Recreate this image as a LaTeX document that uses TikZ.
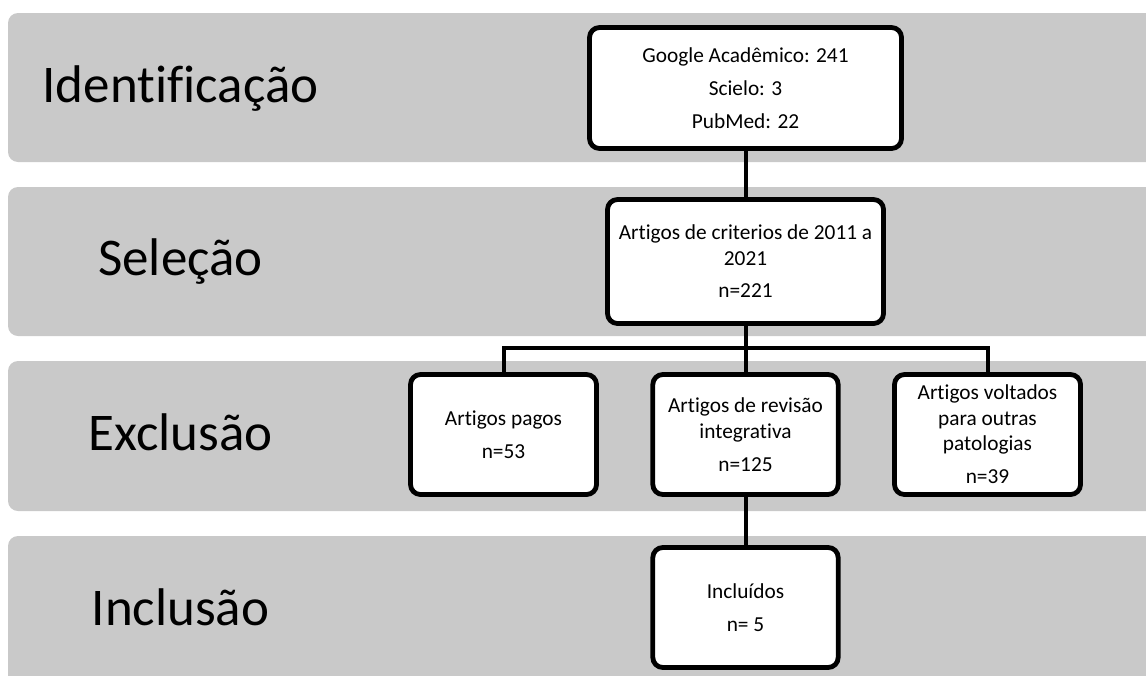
\documentclass[tikz,border=0pt]{standalone}
\usepackage{fontspec}
\setmainfont{Carlito}[Ligatures=NoCommon]
\definecolor{bandgray}{RGB}{201,201,201}
\tikzset{
  band/.style={fill=bandgray, draw=none, rounded corners=7.5pt},
  stagelabel/.style={anchor=base, font=\fontsize{39.75pt}{47pt}\selectfont, inner sep=0pt},
  flowbox/.style={draw=black, fill=white, line width=3.6pt, rounded corners=7.5pt,
    inner sep=0pt, align=center, font=\fontsize{16pt}{19.2pt}\selectfont},
  link/.style={draw=black, line width=3pt}
}
\begin{document}
\begin{tikzpicture}[x=0.75pt,y=-0.75pt]
\useasboundingbox (0,0) rectangle (1146,675);
\clip (0,0) rectangle (1146,675);
% bands
\path[band] (8,13) rectangle (1170,162);
\path[band] (8,187) rectangle (1170,336);
\path[band] (8,361) rectangle (1170,511);
\path[band] (8,536) rectangle (1170,690);
% stage labels
\node[stagelabel] (lid) at (180.5,102) {Identificação};
\node[stagelabel] (lsel) at (180.5,275) {Seleção};
\node[stagelabel] (lexc) at (180.5,450) {Exclusão};
\node[stagelabel] (linc) at (180.5,625) {Inclusão};
% branching point
\coordinate (split) at (745.5,348);
% boxes
\node[flowbox, minimum width=234pt, minimum height=90.75pt] (src) at (745.5,88)
  {Google Acadêmico: 241\\[5.5pt] Scielo: 3\\[5.5pt] PubMed: 22};
\node[flowbox, minimum width=207pt, minimum height=93pt] (sel) at (745.5,261.5)
  {Artigos de criterios de 2011 a\\ 2021\\[5pt] n=221};
\node[flowbox, minimum width=139.5pt, minimum height=90pt] (pagos) at (503.5,434.5)
  {Artigos pagos\\[5.5pt] n=53};
\node[flowbox, minimum width=139pt, minimum height=90pt] (rev) at (745.5,434.5)
  {Artigos de revisão\\ integrativa\\[5.5pt] n=125};
\node[flowbox, minimum width=139.5pt, minimum height=90pt] (outras) at (987.5,434.5)
  {Artigos voltados\\ para outras\\ patologias\\[5.5pt] n=39};
\node[flowbox, minimum width=139pt, minimum height=90pt] (incl) at (745.5,607.5)
  {Incluídos\\[5.5pt] n=~5};
% connectors
\draw[link] (src.south) -- (sel.north);
\draw[link] (sel.south) -- (rev.north);
\draw[link] (pagos.north) |- (split) -| (outras.north);
\draw[link] (rev.south) -- (incl.north);
\end{tikzpicture}
\end{document}
